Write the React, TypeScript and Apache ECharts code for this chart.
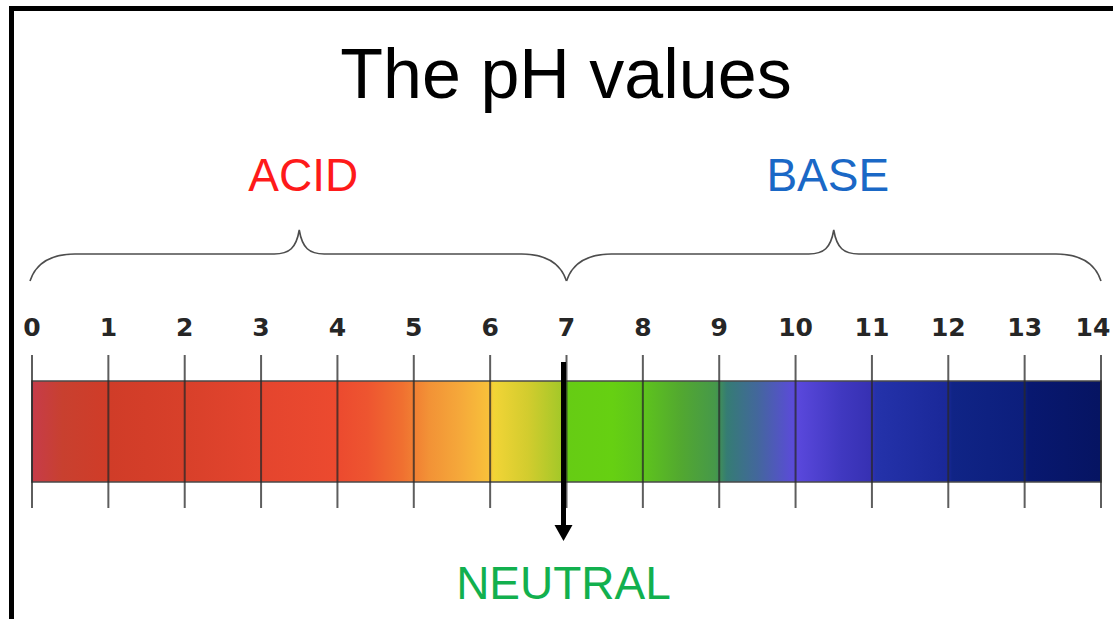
import React, { useEffect, useRef } from "react";
import * as echarts from "echarts";

// ---- data ----
const TITLE = "The pH values";
const PH_MIN = 0;
const PH_MAX = 14;
const PH_TICKS = [0, 1, 2, 3, 4, 5, 6, 7, 8, 9, 10, 11, 12, 13, 14];
const GROUP_NAMES = ["ACID", "BASE"];
const GROUP_FROM = [0, 7];
const GROUP_TO = [7, 14];
const GROUP_COLORS = ["#fe1a1a", "#1a68c6"];
const NEUTRAL_NAME = "NEUTRAL";
const NEUTRAL_PH = 7;
const NEUTRAL_COLOR = "#12b04e";
const GRADIENT_PH = [0, 0.4, 1, 2, 3, 4, 4.4, 4.85, 5.2, 5.6, 6, 6.05, 6.5, 6.95, 7.0, 7.6, 8, 8.5, 8.95, 9.1, 9.5, 9.95, 10.02, 10.6, 11, 11.05, 12, 12.05, 13, 13.05, 14];
const GRADIENT_COLORS = [
  "#c63c4a", "#c8402f", "#d03c28", "#d8402a", "#e4452e", "#ec4a2f", "#ee5530", "#f07030",
  "#f29236", "#f5a83a", "#f8c23a", "#f2d436", "#d2cc2e", "#a2c828", "#66cc14", "#66d012",
  "#5ec41c", "#52a830", "#46984a", "#357c74", "#43679c", "#5a4cd6", "#5a48dc", "#4038c0",
  "#3630b2", "#2432aa", "#1a2898", "#102486", "#0c1e7c", "#081870", "#061462",
];

// ---- layout (pixels) ----
const TICK_TOP = 355;
const TICK_BOTTOM = 508;
const BAR_TOP = 381;
const BAR_BOTTOM = 482;
const BRACE_LINE_Y = 254;
const BRACE_END_Y = 281;
const BRACE_PEAK_Y = 230;
const GROUP_LABEL_Y = 175;
const ARROW_TOP = 362;
const ARROW_TIP = 541;
const NEUTRAL_LABEL_Y = 583;

export default function App() {
  const ref = useRef<HTMLDivElement>(null);
  useEffect(() => {
    if (!ref.current) return;
    const chart = echarts.init(ref.current, null, { renderer: "svg" });
    const stops = GRADIENT_PH.map((p, i) => ({
      offset: (p - PH_MIN) / (PH_MAX - PH_MIN),
      color: GRADIENT_COLORS[i],
    }));
    const labelFont = {
      fontFamily: "DejaVu Sans, sans-serif",
      fontWeight: "bold",
      fontSize: 25,
      color: "#262626",
    };
    const option: any = {
      animation: false,
      backgroundColor: "#ffffff",
      title: {
        text: TITLE,
        left: 566,
        textAlign: "center",
        top: 39,
        padding: 0,
        textStyle: {
          fontFamily: "Liberation Sans, Arial, sans-serif",
          fontSize: 70,
          fontWeight: "normal",
          color: "#000",
        },
      },
      grid: {
        left: 32,
        right: 12,
        top: TICK_TOP,
        bottom: 619 - TICK_BOTTOM,
        outerBoundsMode: "none",
        containLabel: false,
      },
      xAxis: {
        type: "value",
        min: PH_MIN,
        max: PH_MAX,
        interval: 1,
        position: "top",
        axisLine: { show: false },
        axisTick: { show: false },
        splitLine: { show: false },
        axisLabel: {
          showMinLabel: true,
          showMaxLabel: true,
          margin: 15,
          ...labelFont,
          formatter: (v: number) => (v === PH_MAX ? `{last|${v}}` : `${v}`),
          rich: { last: { ...labelFont, padding: [0, 16, 0, 0] } },
        },
      },
      yAxis: { type: "value", min: 0, max: 1, show: false },
      graphic: [
        { type: "rect", shape: { x: 9, y: 6, width: 5, height: 613 }, style: { fill: "#000" }, z: 10 },
        { type: "rect", shape: { x: 9, y: 6, width: 1104, height: 5 }, style: { fill: "#000" }, z: 10 },
      ],
      series: [
        {
          type: "custom",
          name: "pH scale",
          z: 2,
          data: [[PH_MIN, PH_MAX]],
          encode: { x: [0, 1] },
          renderItem: (params: any, api: any) => {
            const x0 = api.coord([api.value(0), 0])[0];
            const x1 = api.coord([api.value(1), 0])[0];
            return {
              type: "rect",
              shape: { x: x0, y: BAR_TOP, width: x1 - x0, height: BAR_BOTTOM - BAR_TOP },
              style: {
                fill: { type: "linear", x: 0, y: 0, x2: 1, y2: 0, colorStops: stops },
                stroke: "#4a4a4a",
                lineWidth: 1.5,
              },
            };
          },
        },
        {
          type: "custom",
          name: "ticks",
          z: 3,
          data: PH_TICKS.map((v) => [v, 0]),
          renderItem: (params: any, api: any) => {
            const x = api.coord([api.value(0), 0])[0];
            return {
              type: "line",
              shape: { x1: x, y1: TICK_TOP, x2: x, y2: TICK_BOTTOM },
              style: { stroke: "rgba(40,40,40,0.75)", lineWidth: 2 },
            };
          },
        },
        {
          type: "custom",
          name: "groups",
          z: 3,
          data: GROUP_FROM.map((f, i) => [f, GROUP_TO[i], i]),
          encode: { x: [0, 1] },
          renderItem: (params: any, api: any) => {
            const i = api.value(2);
            const from = api.value(0);
            const to = api.value(1);
            const a = api.coord([from, 0])[0] - (i === 0 ? 2 : 0);
            const b = api.coord([to, 0])[0];
            const m = api.coord([(from + to) / 2, 0])[0];
            const L = BRACE_LINE_Y, E = BRACE_END_Y, P = BRACE_PEAK_Y;
            const d =
              `M ${a} ${E} C ${a + 5} ${E - 15} ${a + 18} ${L} ${a + 45} ${L} ` +
              `L ${m - 25} ${L} C ${m - 10} ${L} ${m - 3} ${L - 6} ${m} ${P} ` +
              `C ${m + 3} ${L - 6} ${m + 10} ${L} ${m + 25} ${L} ` +
              `L ${b - 45} ${L} C ${b - 18} ${L} ${b - 5} ${E - 15} ${b} ${E}`;
            return {
              type: "group",
              children: [
                {
                  type: "path",
                  shape: { pathData: d },
                  style: { fill: "none", stroke: "#4d4d4d", lineWidth: 1.6 },
                },
                {
                  type: "text",
                  x: m + (i === 0 ? 4 : -6),
                  y: GROUP_LABEL_Y,
                  style: {
                    text: GROUP_NAMES[i],
                    fill: GROUP_COLORS[i],
                    fontSize: 46,
                    fontFamily: "Liberation Sans, Arial, sans-serif",
                    align: "center",
                    verticalAlign: "middle",
                  },
                },
              ],
            };
          },
        },
        {
          type: "custom",
          name: "neutral",
          z: 4,
          data: [[NEUTRAL_PH, 0]],
          renderItem: (params: any, api: any) => {
            const x = api.coord([api.value(0), 0])[0] - 3;
            return {
              type: "group",
              children: [
                {
                  type: "line",
                  shape: { x1: x, y1: ARROW_TOP, x2: x, y2: ARROW_TIP - 14 },
                  style: { stroke: "#000", lineWidth: 5 },
                },
                {
                  type: "polygon",
                  shape: { points: [[x - 9, ARROW_TIP - 16], [x + 9, ARROW_TIP - 16], [x, ARROW_TIP]] },
                  style: { fill: "#000" },
                },
                {
                  type: "text",
                  x: x,
                  y: NEUTRAL_LABEL_Y,
                  style: {
                    text: NEUTRAL_NAME,
                    fill: NEUTRAL_COLOR,
                    fontSize: 46,
                    fontFamily: "Liberation Sans, Arial, sans-serif",
                    align: "center",
                    verticalAlign: "middle",
                  },
                },
              ],
            };
          },
        },
      ],
    };
    chart.setOption(option);
    return () => chart.dispose();
  }, []);
  return (
    <div
      ref={ref}
      style={{ position: "fixed", left: 0, top: 0, width: 1113, height: 619, background: "#fff" }}
    />
  );
}
